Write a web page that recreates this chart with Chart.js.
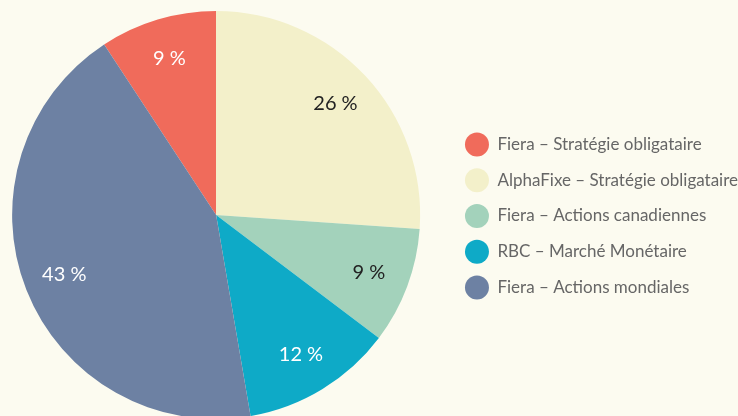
<!DOCTYPE html>
<html>
<head>
<meta charset="utf-8">
<script src="https://cdn.jsdelivr.net/npm/chart.js@4.4.1/dist/chart.umd.min.js"></script>
<style>
    html, body { margin: 0; padding: 0; background: #fcfbf0; }
    #wrap { width: 738px; height: 416px; position: relative; }
</style>
</head>
<body>
<div id="wrap"><canvas id="pieChart"></canvas></div>
<script>
// Repartition du portefeuille
const fundLabels = [
    'Fiera \u2013 Strat\u00e9gie obligataire',
    'AlphaFixe \u2013 Strat\u00e9gie obligataire',
    'Fiera \u2013 Actions canadiennes',
    'RBC \u2013 March\u00e9 Mon\u00e9taire',
    'Fiera \u2013 Actions mondiales'
];
const fundValues = [9.25, 26.1, 9.2, 12, 43.45];
const fundColors = ['#f06b5b', '#f3f0ca', '#a3d2bb', '#0eaac7', '#6d81a3'];
const labelColors = ['#ffffff', '#222222', '#222222', '#ffffff', '#ffffff'];

// Plugin pour ecrire le pourcentage dans chaque part
const sliceLabels = {
    id: 'sliceLabels',
    afterDatasetsDraw(chart) {
        const ctx = chart.ctx;
        const meta = chart.getDatasetMeta(0);
        ctx.save();
        ctx.font = '20px Lato';
        ctx.textAlign = 'center';
        ctx.textBaseline = 'middle';
        meta.data.forEach((arc, i) => {
            const mid = (arc.startAngle + arc.endAngle) / 2;
            const r = arc.outerRadius * 0.8;
            ctx.fillStyle = labelColors[i];
            ctx.fillText(Math.round(fundValues[i]) + ' %', arc.x + Math.cos(mid) * r, arc.y + Math.sin(mid) * r);
        });
        ctx.restore();
    }
};

// Decale un peu le camembert (gauche / bas) et la legende vers la droite
const shiftLayout = {
    id: 'shiftLayout',
    afterLayout(chart) {
        chart.chartArea.left -= 4;
        chart.chartArea.width += 4;
        chart.chartArea.top += 3;
        chart.chartArea.bottom += 3;
        chart.legend.left += 10;
        chart.legend.right += 10;
        chart.legend.top += 4;
        chart.legend.bottom += 4;
    }
};

const ctx = document.getElementById('pieChart');
new Chart(ctx, {
    type: 'pie',
    data: {
        labels: fundLabels,
        datasets: [{
            data: fundValues,
            backgroundColor: fundColors,
            borderWidth: 0
        }]
    },
    options: {
        responsive: true,
        maintainAspectRatio: false,
        animation: false,
        rotation: -33.3,
        layout: {
            padding: { left: 0, top: 8, bottom: 0, right: 0 }
        },
        plugins: {
            tooltip: { enabled: false },
            legend: {
                position: 'right',
                labels: {
                    usePointStyle: true,
                    pointStyle: 'circle',
                    pointStyleWidth: 24,
                    color: '#666666',
                    padding: 18.7,
                    font: { family: 'Lato', size: 17 }
                }
            }
        }
    },
    plugins: [sliceLabels, shiftLayout]
});
</script>
</body>
</html>
